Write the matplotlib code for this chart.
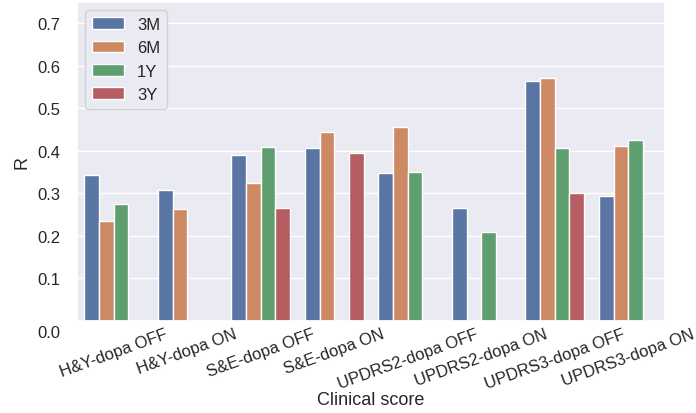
import matplotlib
matplotlib.use("Agg")
import matplotlib.pyplot as plt
import matplotlib.transforms as mtransforms
import numpy as np
import seaborn as sns

sns.set_theme(style="darkgrid")
plt.rcParams["font.family"] = ["Liberation Sans", "DejaVu Sans"]

categories = ["H&Y-dopa OFF", "H&Y-dopa ON", "S&E-dopa OFF", "S&E-dopa ON",
              "UPDRS2-dopa OFF", "UPDRS2-dopa ON", "UPDRS3-dopa OFF", "UPDRS3-dopa ON"]
periods = ["3M", "6M", "1Y", "3Y"]

r_3m = [0.344, 0.307, 0.391, 0.407, 0.348, 0.266, 0.564, 0.294]
r_6m = [0.234, 0.264, 0.325, 0.445, 0.455, np.nan, 0.571, 0.412]
r_1y = [0.276, np.nan, 0.410, np.nan, 0.350, 0.209, 0.407, 0.426]
r_3y = [np.nan, np.nan, 0.266, 0.395, np.nan, np.nan, 0.302, np.nan]

# seaborn barplot look: deep palette desaturated to 0.75
colors = [sns.desaturate(c, 0.75) for c in sns.color_palette("deep", 4)]

fig = plt.figure(figsize=(6.96, 4.14), dpi=100)
ax = fig.add_axes([0.1106, 0.2222, 0.8449, 0.7706])

x = np.arange(len(categories))
width = 0.2
for i, (name, vals) in enumerate(zip(periods, [r_3m, r_6m, r_1y, r_3y])):
    offs = (i - 1.5) * width
    ax.bar(x + offs, vals, width, color=colors[i], edgecolor="white",
           linewidth=1, label=name)

ax.set_xlim(-0.5, len(categories) - 0.5)
ax.set_ylim(0, 0.75)
ax.set_yticks(np.arange(0, 0.71, 0.1))
ax.set_xticks(x)
ax.set_xticklabels(categories, rotation=20, fontsize=12)
ax.tick_params(axis="x", pad=3.5, length=0)
ax.tick_params(axis="y", labelsize=12, pad=12, length=0)
ax.grid(False, axis="x")
ax.set_xlabel("Clinical score", fontsize=13, labelpad=0)
ax.set_ylabel("R", fontsize=13, labelpad=5)

# the 0.0 label sits a bit lower in the original
fig.canvas.draw()
lbl = ax.get_yticklabels()[0]
lbl.set_transform(lbl.get_transform() +
                  mtransforms.ScaledTranslation(0, -10 / 100, fig.dpi_scale_trans))

ax.legend(loc="upper left", fontsize=12, handlelength=1.9)

fig.savefig("out.png", dpi=100)
